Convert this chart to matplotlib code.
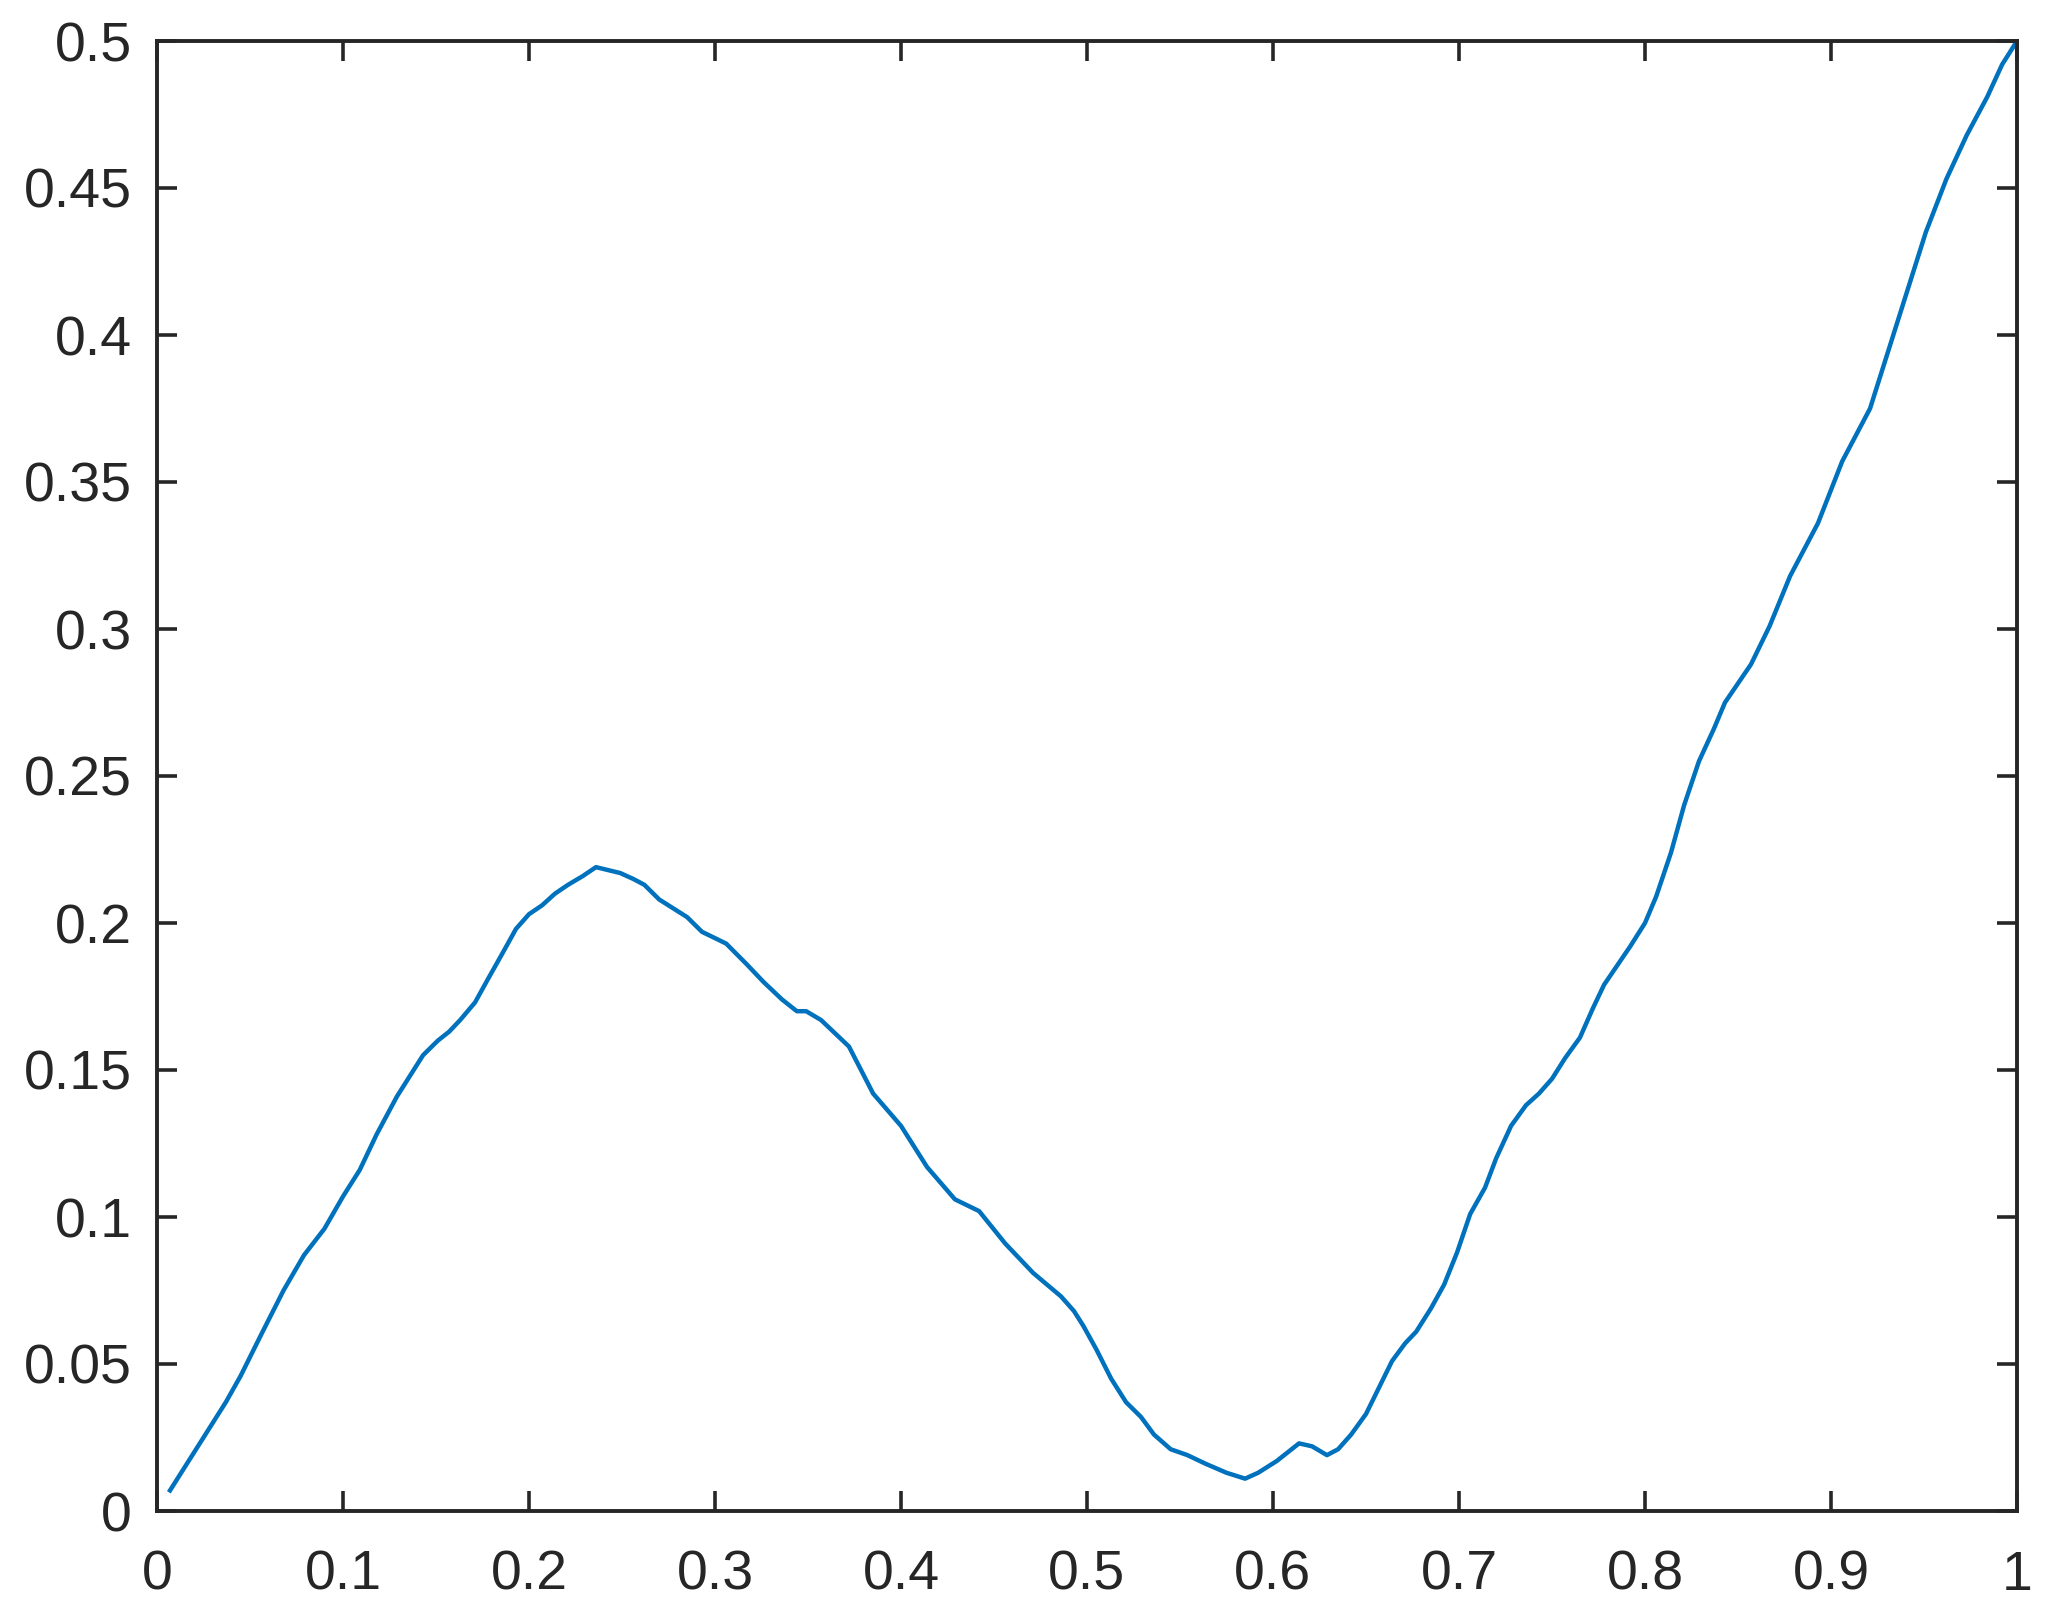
import matplotlib
matplotlib.use('Agg')
import matplotlib.pyplot as plt
import numpy as np

# curve
x = [0.007, 0.020, 0.037, 0.045, 0.056, 0.068, 0.079, 0.090, 0.100, 0.109,
     0.118, 0.129, 0.136, 0.143, 0.151, 0.157, 0.163, 0.171, 0.178, 0.186,
     0.193, 0.200, 0.207, 0.214, 0.221, 0.229, 0.236, 0.249, 0.256, 0.262,
     0.270, 0.285, 0.293, 0.306, 0.317, 0.326, 0.336, 0.344, 0.349, 0.357,
     0.372, 0.385, 0.400, 0.414, 0.429, 0.442, 0.456, 0.471, 0.486, 0.493,
     0.498, 0.505, 0.513, 0.521, 0.529, 0.536, 0.545, 0.554, 0.564, 0.575,
     0.585, 0.592, 0.602, 0.614, 0.621, 0.629, 0.635, 0.642, 0.650, 0.657,
     0.664, 0.671, 0.677, 0.685, 0.692, 0.699, 0.706, 0.714, 0.720, 0.728,
     0.736, 0.743, 0.750, 0.757, 0.765, 0.772, 0.778, 0.792, 0.800, 0.806,
     0.814, 0.821, 0.829, 0.837, 0.843, 0.857, 0.867, 0.878, 0.893, 0.906,
     0.921, 0.931, 0.940, 0.951, 0.962, 0.973, 0.984, 0.992, 1.000]
y = [0.007, 0.020, 0.037, 0.046, 0.060, 0.075, 0.087, 0.096, 0.107, 0.116,
     0.128, 0.141, 0.148, 0.155, 0.160, 0.163, 0.167, 0.173, 0.181, 0.190,
     0.198, 0.203, 0.206, 0.210, 0.213, 0.216, 0.219, 0.217, 0.215, 0.213,
     0.208, 0.202, 0.197, 0.193, 0.186, 0.180, 0.174, 0.170, 0.170, 0.167,
     0.158, 0.142, 0.131, 0.117, 0.106, 0.102, 0.091, 0.081, 0.073, 0.068,
     0.063, 0.055, 0.045, 0.037, 0.032, 0.026, 0.021, 0.019, 0.016, 0.013,
     0.011, 0.013, 0.017, 0.023, 0.022, 0.019, 0.021, 0.026, 0.033, 0.042,
     0.051, 0.057, 0.061, 0.069, 0.077, 0.088, 0.101, 0.110, 0.120, 0.131,
     0.138, 0.142, 0.147, 0.154, 0.161, 0.171, 0.179, 0.192, 0.200, 0.209,
     0.224, 0.240, 0.255, 0.266, 0.275, 0.288, 0.301, 0.318, 0.336, 0.357,
     0.375, 0.395, 0.413, 0.435, 0.453, 0.468, 0.481, 0.492, 0.500]

xticks = [0, 0.1, 0.2, 0.3, 0.4, 0.5, 0.6, 0.7, 0.8, 0.9, 1]
yticks = [0, 0.05, 0.1, 0.15, 0.2, 0.25, 0.3, 0.35, 0.4, 0.45, 0.5]

plt.rcParams['font.family'] = ['Liberation Sans', 'DejaVu Sans']
axcol = '#262626'

fig = plt.figure(figsize=(2055/200, 1620/200), dpi=200)
ax = fig.add_axes([157/2055, 1-1511/1620, 1860/2055, 1470/1620])
ax.plot(x, y, color='#0072BD', lw=1.6)
ax.set_xlim(0, 1)
ax.set_ylim(0, 0.5)
ax.set_xticks(xticks)
ax.set_yticks(yticks)
ax.set_xticklabels(['0', '0.1', '0.2', '0.3', '0.4', '0.5', '0.6', '0.7', '0.8', '0.9', '1'])
ax.set_yticklabels(['0', '0.05', '0.1', '0.15', '0.2', '0.25', '0.3', '0.35', '0.4', '0.45', '0.5'])
ax.tick_params(direction='in', length=7.2, width=1.3, colors=axcol, labelsize=20,
               top=True, right=True)
ax.tick_params(axis='y', pad=9)
ax.tick_params(axis='x', pad=14)
for s in ax.spines.values():
    s.set_color(axcol)
    s.set_linewidth(1.4)

fig.savefig('out.png', dpi=200)
